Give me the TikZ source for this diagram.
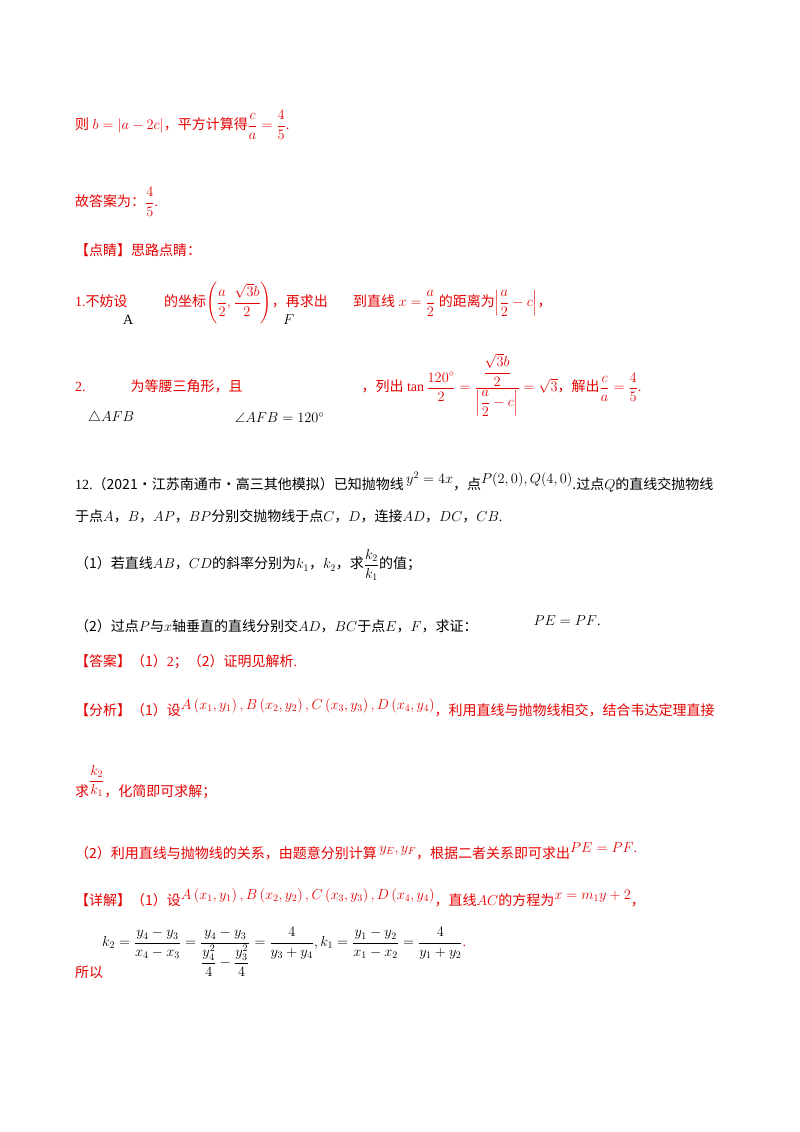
\documentclass[tikz,border=0pt]{standalone}
\usepackage{amsmath}
\usepackage{amssymb}
\usepackage{fontspec}
\setmainfont{Liberation Serif}
\newfontfamily\cjk{Noto Sans CJK SC}
\usetikzlibrary{positioning}
\definecolor{ansred}{RGB}{230,0,0}
\newcommand{\zh}[1]{{\cjk #1}}
\newcommand{\up}[1]{\raisebox{6pt}{#1}}
\begin{document}
\begin{tikzpicture}[x=1pt, y=-1pt,
    line/.style={anchor=west, inner sep=0pt, font=\fontsize{14}{17}\selectfont},
    red line/.style={line, text=ansred}]
  \useasboundingbox (0,0) rectangle (800,1132);

  % previous solution
  \node[red line] (l1) at (75,125) {\zh{则} $b=\left|a-2c\right|$\zh{，平方计算得}$\dfrac{c}{a}=\dfrac{4}{5}$.};
  \node[red line] (l2) at (75,202) {\zh{故答案为：}$\dfrac{4}{5}$.};
  \node[red line] (l3) at (75,250) {\zh{【点睛】思路点睛：}};

  % hint lines
  \node[red line] (l4) at (75,303) {1.\zh{不妨设}\hspace{2.6em}\zh{的坐标}$\left(\dfrac{a}{2},\dfrac{\sqrt{3}b}{2}\right)$\zh{，再求出}\hspace{1.8em}\zh{到直线} $x=\dfrac{a}{2}$ \zh{的距离为}$\left|\dfrac{a}{2}-c\right|$\zh{，}};
  \node[line] (l4a) at (123,320) {A};
  \node[line] (l4f) at (283,320) {$F$};
  \node[red line] (l5) at (75,385) {2.\hspace{3.2em}\zh{为等腰三角形，且}\hspace{8.5em}\zh{，列出}\ $\tan\dfrac{120^{\circ}}{2}=\dfrac{\dfrac{\sqrt{3}b}{2}}{\left|\dfrac{a}{2}-c\right|}=\sqrt{3}$\zh{，解出}$\dfrac{c}{a}=\dfrac{4}{5}$.};
  \node[line] (l5a) at (88,418) {$\triangle AFB$};
  \node[line] (l5b) at (235,418) {$\angle AFB=120^{\circ}$};

  % problem 12
  \node[line] (p1) at (75,482) {12.\zh{（2021·江苏南通市·高三其他模拟）已知抛物线}\up{$\,y^{2}=4x$}\zh{，点}\up{$P(2,0),Q(4,0)$}\zh{.过点}$Q$\zh{的直线交抛物线}};
  \node[line] (p2) at (75,516) {\zh{于点}$A$\zh{，}$B$\zh{，}$AP$\zh{，}$BP$\zh{分别交抛物线于点}$C$\zh{，}$D$\zh{，连接}$AD$\zh{，}$DC$\zh{，}$CB$.};
  \node[line] (p3) at (75,565) {\zh{（1）若直线}$AB$\zh{，}$CD$\zh{的斜率分别为}$k_1$\zh{，}$k_2$\zh{，求}$\dfrac{k_2}{k_1}$\zh{的值；}};
  \node[line] (p4) at (75,624) {\zh{（2）过点}$P$\zh{与}$x$\zh{轴垂直的直线分别交}$AD$\zh{，}$BC$\zh{于点}$E$\zh{，}$F$\zh{，求证：}\hspace{4em}\up{$PE=PF$.}};

  % answer
  \node[red line] (a1) at (75,662) {\zh{【答案】（1）}2\zh{；（2）证明见解析}.};
  \node[red line] (a2) at (75,708) {\zh{【分析】（1）设}\up{$A\left(x_1,y_1\right),B\left(x_2,y_2\right),C\left(x_3,y_3\right),D\left(x_4,y_4\right)$}\zh{，利用直线与抛物线相交，结合韦达定理直接}};
  \node[red line] (a3) at (75,782) {\zh{求}\raisebox{12pt}{$\dfrac{k_2}{k_1}$}\zh{，化简即可求解；}};
  \node[red line] (a4) at (75,851) {\zh{（2）利用直线与抛物线的关系，由题意分别计算}\up{$\,y_E,y_F$}\zh{，根据二者关系即可求出}\up{$PE=PF$.}};
  \node[red line] (a5) at (75,898) {\zh{【详解】（1）设}\up{$A\left(x_1,y_1\right),B\left(x_2,y_2\right),C\left(x_3,y_3\right),D\left(x_4,y_4\right)$}\zh{，直线}$AC$\zh{的方程为}\up{$x=m_1y+2$}\zh{，}};
  \node[red line] (a6) at (75,972) {\zh{所以}};
  \node[line] (a7) at (102,952) {$k_2=\dfrac{y_4-y_3}{x_4-x_3}=\dfrac{y_4-y_3}{\dfrac{y_4^2}{4}-\dfrac{y_3^2}{4}}=\dfrac{4}{y_3+y_4},k_1=\dfrac{y_1-y_2}{x_1-x_2}=\dfrac{4}{y_1+y_2}$\textcolor{ansred}{.}};
\end{tikzpicture}
\end{document}
